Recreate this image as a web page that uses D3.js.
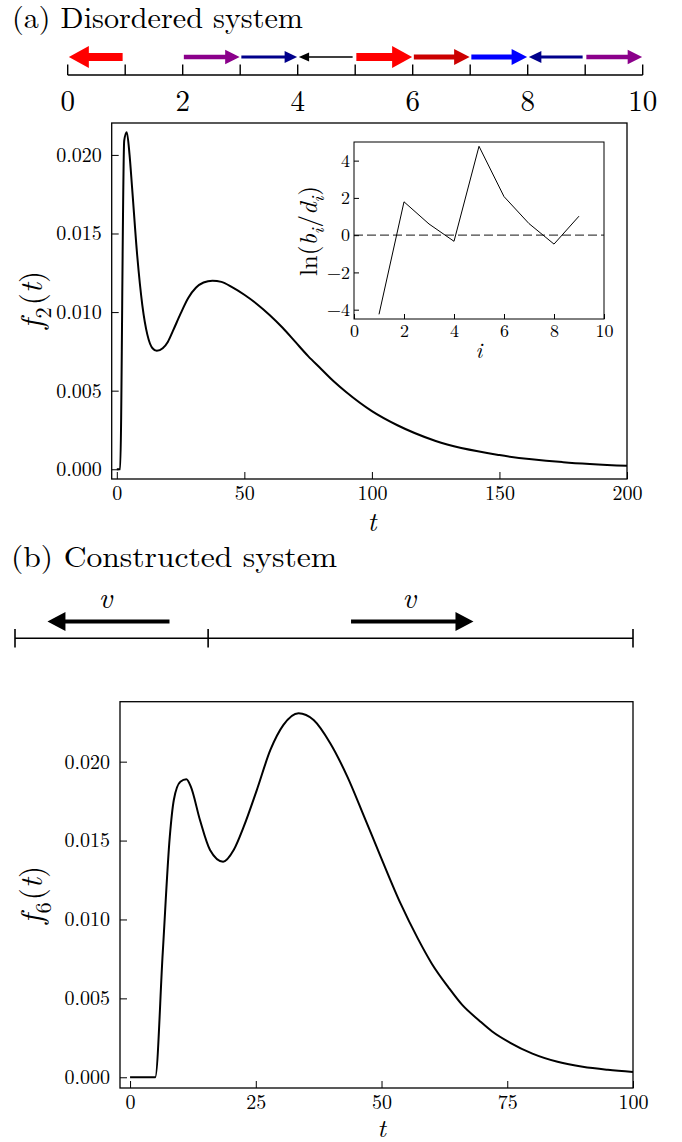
<!DOCTYPE html>
<html>
<head>
<meta charset="utf-8">
<style>
body { margin: 0; background: #fff; }
</style>
</head>
<body>
<svg width="682" height="1142"></svg>
<script src="https://d3js.org/d3.v7.min.js"></script>
<script>

// ---- (a) chain of sites with drift arrows
var chainTicks = d3.range(0, 11);
var chainLabels = [0, 2, 4, 6, 8, 10];
var arrowSite  = [0, 2, 3, 4, 5, 6, 7, 8, 9];
var arrowDir   = [-1, 1, 1, -1, 1, 1, 1, -1, 1];
var arrowColor = ["#ff0000", "#8b008b", "#00008b", "#000000", "#ff0000", "#cc0000", "#0000ff", "#00008b", "#8b008b"];
var arrowWidth = [8, 4.3, 3, 1.5, 8, 5, 5, 3, 4.3];

// ---- inset: ln(b_i/d_i)
var siteIndex = [1, 2, 3, 4, 5, 6, 7, 8, 9];
var lnRatio   = [-4.25, 1.79, 0.6, -0.33, 4.77, 2.07, 0.62, -0.48, 1.02];

// ---- f_2(t)
var t2 = [0, 1.3, 2.9, 3.9, 5, 6, 8, 10, 12, 14, 15.7, 18, 20, 22, 25, 28, 31, 34, 37.5, 41, 45, 50, 55, 60, 65, 70, 75, 80, 85, 90, 100, 110, 125, 150, 175, 200];
var f2 = [0, 0, 0.0209, 0.02144, 0.0200, 0.0179, 0.0136, 0.01045, 0.00855, 0.0077, 0.00754, 0.0077, 0.0081, 0.0088, 0.0099, 0.0109, 0.01155, 0.01188, 0.0120, 0.01192, 0.0116, 0.0111, 0.0105, 0.0098, 0.0090, 0.0081, 0.0072, 0.0064, 0.0056, 0.0049, 0.0037, 0.0028, 0.0018, 0.0009, 0.00045, 0.00022];

// ---- (b) constructed chain
var segTicks = [0, 5, 16];
var vTail = [4.0, 8.7];
var vTip  = [0.84, 11.87];

// ---- f_6(t)
var t6 = [0, 5, 6.5, 7.9, 8.7, 10, 11.2, 12.1, 13.9, 15.9, 18.5, 20.6, 22.6, 25.2, 27.9, 30.5, 33.5, 36.5, 39.8, 43.2, 46.5, 49.8, 53.8, 57.2, 60, 63.3, 66, 69.4, 72, 75.5, 80, 85, 90, 95, 100];
var f6 = [0, 0, 0.0079, 0.01525, 0.01757, 0.01873, 0.01888, 0.0184, 0.0163, 0.0144, 0.01366, 0.0144, 0.01588, 0.0182, 0.02074, 0.02233, 0.02307, 0.02264, 0.02117, 0.01905, 0.01655, 0.0140, 0.0110, 0.0088, 0.0072, 0.0057, 0.0046, 0.0036, 0.0029, 0.0022, 0.0015, 0.00098, 0.00066, 0.00047, 0.00034];

// pick a serif face that is really there
function hasFont(name) {
  var c = document.createElement("canvas").getContext("2d"), s = "mmmmmmmmmmlli0123456789WwQq";
  return ["monospace", "sans-serif"].some(function(fb) {
    c.font = "40px " + fb; var a = c.measureText(s).width;
    c.font = "40px '" + name + "', " + fb; var b = c.measureText(s).width;
    return a != b;
  });
}
var serif = ["Latin Modern Roman", "CMU Serif", "Liberation Serif", "Times New Roman", "Tinos", "DejaVu Serif", "Noto Serif", "FreeSerif", "Nimbus Roman"]
    .filter(hasFont);
var family = serif.length ? "'" + serif[0] + "', serif" : "serif";

var svg = d3.select("svg").attr("font-family", family).style("font-family", family);

// arrow polygon: shaft width w, head W wide and L long
function arrowPath(x0, x1, y, w, W, L) {
  var s = x1 > x0 ? 1 : -1, xb = x1 - s * L;
  return "M" + [[x0, y - w / 2], [xb, y - w / 2], [xb, y - W / 2], [x1, y], [xb, y + W / 2], [xb, y + w / 2], [x0, y + w / 2]].join("L") + "Z";
}

function title(x, y, len, txt) {
  svg.append("text").attr("x", x).attr("y", y)
      .attr("font-size", 29).attr("textLength", len).attr("lengthAdjust", "spacingAndGlyphs")
      .text(txt);
}

// axis helper: inward ticks with minors
function axes(g, x, y, o) {
  var ax = g.append("g").attr("transform", "translate(0," + y.range()[0] + ")");
  ax.call(d3.axisBottom(x).tickValues(o.xMinor).tickSize(-o.minor).tickFormat(""));
  ax.call(d3.axisBottom(x).tickValues(o.xMajor).tickSize(-o.major).tickPadding(o.padX).tickFormat(o.xFmt));
  var ay = g.append("g").attr("transform", "translate(" + x.range()[0] + ",0)");
  ay.call(d3.axisLeft(y).tickValues(o.yMinor).tickSize(-o.minor).tickFormat(""));
  ay.call(d3.axisLeft(y).tickValues(o.yMajor).tickSize(-o.major).tickPadding(o.padY).tickFormat(o.yFmt));
  [ax, ay].forEach(function(a) {
    a.attr("font-family", family).attr("font-size", o.fs);
    a.selectAll(".domain").remove();
    a.selectAll("line").attr("stroke", "#000").attr("stroke-width", 1);
    a.selectAll("text").attr("fill", "#000");
  });
  g.append("rect")
      .attr("x", x.range()[0]).attr("y", y.range()[1])
      .attr("width", x.range()[1] - x.range()[0]).attr("height", y.range()[0] - y.range()[1])
      .attr("fill", "none").attr("stroke", "#000").attr("stroke-width", o.frame);
}

function curve(g, x, y, ts, vs, w) {
  g.append("path")
      .datum(d3.zip(ts, vs))
      .attr("fill", "none").attr("stroke", "#000").attr("stroke-width", w)
      .attr("stroke-linejoin", "round")
      .attr("d", d3.line().x(function(d) { return x(d[0]); }).y(function(d) { return y(d[1]); }).curve(d3.curveMonotoneX));
}

// rotated math label with subscripts
function ylab(g, x, y, fs, parts) {
  var t = g.append("text").attr("transform", "translate(" + x + "," + y + ") rotate(-90)")
      .attr("text-anchor", "middle").attr("font-size", fs);
  parts.forEach(function(p) {
    var s = t.append("tspan").text(p[0]);
    if (p[1] == "i") s.attr("font-style", "italic");
    if (p[1] == "sub") s.attr("font-size", fs * 0.72).attr("dy", fs * 0.28);
    if (p[1] == "subi") s.attr("font-size", fs * 0.72).attr("dy", fs * 0.28).attr("font-style", "italic");
    if (p[2]) s.attr("dy", p[2]);
    if (p[3]) s.attr("dx", p[3]);
  });
}

// ================= (a) =================
title(12, 28, 291, "(a) Disordered system");

var xc = d3.scaleLinear().domain([0, 10]).range([67.7, 642.7]);
var chain = svg.append("g");
chain.append("line").attr("x1", xc(0)).attr("x2", xc(10)).attr("y1", 75).attr("y2", 75)
    .attr("stroke", "#000").attr("stroke-width", 1.4);
chain.selectAll(".tk").data(chainTicks).enter().append("line")
    .attr("x1", xc).attr("x2", xc).attr("y1", 75).attr("y2", 64.5)
    .attr("stroke", "#000").attr("stroke-width", 1.4);
chain.selectAll(".lb").data(chainLabels).enter().append("text")
    .attr("x", xc).attr("y", 111).attr("text-anchor", "middle").attr("font-size", 29)
    .text(function(d) { return d; });
chain.selectAll(".ar").data(arrowSite).enter().append("path")
    .attr("d", function(s, i) {
      var a = xc(s + 0.02), b = xc(s + 0.99), w = arrowWidth[i];
      return arrowDir[i] > 0 ? arrowPath(a, b, 57, w, 2 * w + 6, 1.5 * w + 8)
                             : arrowPath(b - 2, a, 57, w, 2 * w + 6, 1.5 * w + 8);
    })
    .attr("fill", function(s, i) { return arrowColor[i]; });

var gA = svg.append("g");
var xA = d3.scaleLinear().domain([-2, 200]).range([111.7, 627]);
var yA = d3.scaleLinear().domain([-0.00062, 0.02203]).range([479, 123]);
axes(gA, xA, yA, {
  fs: 20, major: 7, minor: 3.5, padX: 7, padY: 10, frame: 1.3,
  xMajor: d3.range(0, 201, 50), xMinor: d3.range(0, 201, 10), xFmt: d3.format("d"),
  yMajor: [0, 0.005, 0.01, 0.015, 0.02], yMinor: d3.range(0, 23).map(function(k) { return k / 1000; }), yFmt: d3.format(".3f")
});
curve(gA, xA, yA, t2, f2, 2);
gA.append("text").attr("x", xA(100)).attr("y", 531).attr("text-anchor", "middle")
    .attr("font-size", 27).attr("font-style", "italic").text("t");
ylab(gA, 42, 300, 31, [["f", "i"], ["2", "sub", 0, 1], ["(", "", -31 * 0.28, 2], ["t", "i"], [")", ""]]);

// inset
var gI = svg.append("g");
var xI = d3.scaleLinear().domain([0, 10]).range([354, 604]);
var yI = d3.scaleLinear().domain([-4.5, 5]).range([319, 142]);
gI.append("rect").attr("x", 354).attr("y", 142).attr("width", 250).attr("height", 177).attr("fill", "#fff");
gI.append("line").attr("x1", xI(0)).attr("x2", xI(10)).attr("y1", yI(0)).attr("y2", yI(0))
    .attr("stroke", "#444").attr("stroke-width", 1.2).attr("stroke-dasharray", "9,4");
gI.append("path")
    .datum(d3.zip(siteIndex, lnRatio))
    .attr("fill", "none").attr("stroke", "#000").attr("stroke-width", 1)
    .attr("d", d3.line().x(function(d) { return xI(d[0]); }).y(function(d) { return yI(d[1]); }));
axes(gI, xI, yI, {
  fs: 18, major: 5, minor: 2.5, padX: 5, padY: 4, frame: 1,
  xMajor: d3.range(0, 11, 2), xMinor: d3.range(0, 10.01, 0.5), xFmt: d3.format("d"),
  yMajor: [-4, -2, 0, 2, 4], yMinor: d3.range(-4.5, 5.01, 0.5), yFmt: d3.format("d")
});
gI.append("text").attr("x", xI(5)).attr("y", 358).attr("text-anchor", "middle")
    .attr("font-size", 22).attr("font-style", "italic").text("i");
ylab(gI, 317, 231, 25, [["ln(", ""], ["b", "i"], ["i", "subi"], ["/", "", -25 * 0.28, 1], ["d", "i"], ["i", "subi"], [")", "", -25 * 0.28, 1]]);

// ================= (b) =================
title(11, 567, 326, "(b) Constructed system");

var xs = d3.scaleLinear().domain([0, 16]).range([15, 633]);
var seg = svg.append("g");
seg.append("line").attr("x1", xs(0)).attr("x2", xs(16)).attr("y1", 638.3).attr("y2", 638.3)
    .attr("stroke", "#000").attr("stroke-width", 1.4);
seg.selectAll(".tk").data(segTicks).enter().append("line")
    .attr("x1", xs).attr("x2", xs).attr("y1", 629).attr("y2", 647.5)
    .attr("stroke", "#000").attr("stroke-width", 1.6);
seg.selectAll(".ar").data(vTail).enter().append("path")
    .attr("d", function(d, i) { return arrowPath(xs(d), xs(vTip[i]), 621.5, 4.2, 19, 18); })
    .attr("fill", "#000");
seg.selectAll(".v").data(vTail).enter().append("text")
    .attr("x", function(d, i) { return (xs(d) + xs(vTip[i])) / 2 - 3; })
    .attr("y", 608).attr("text-anchor", "middle")
    .attr("font-size", 30).attr("font-style", "italic").text("v");

var gB = svg.append("g");
var xB = d3.scaleLinear().domain([-2, 100]).range([120, 633]);
var yB = d3.scaleLinear().domain([-0.00068, 0.0238]).range([1088, 701.7]);
axes(gB, xB, yB, {
  fs: 20, major: 7, minor: 3.5, padX: 7, padY: 10, frame: 1.3,
  xMajor: d3.range(0, 101, 25), xMinor: d3.range(0, 101, 5), xFmt: d3.format("d"),
  yMajor: [0, 0.005, 0.01, 0.015, 0.02], yMinor: d3.range(0, 24).map(function(k) { return k / 1000; }), yFmt: d3.format(".3f")
});
curve(gB, xB, yB, t6, f6, 2);
gB.append("text").attr("x", xB(50)).attr("y", 1137).attr("text-anchor", "middle")
    .attr("font-size", 26).attr("font-style", "italic").text("t");
ylab(gB, 42, 895, 31, [["f", "i"], ["6", "sub", 0, 1], ["(", "", -31 * 0.28, 2], ["t", "i"], [")", ""]]);

</script>
</body>
</html>
